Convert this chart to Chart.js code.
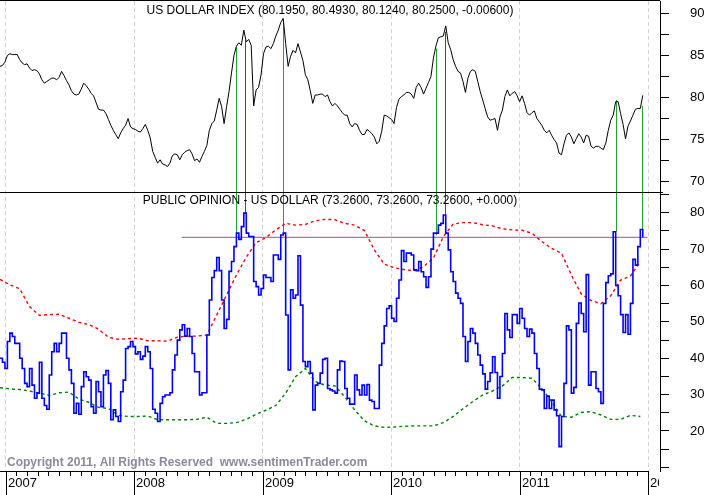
<!DOCTYPE html>
<html>
<head>
<meta charset="utf-8">
<script src="https://cdn.jsdelivr.net/npm/chart.js@4.4.1/dist/chart.umd.min.js"></script>
<style>
  html, body { margin: 0; padding: 0; background: #fff; }
  #wrap { position: relative; width: 708px; height: 495px; }
</style>
</head>
<body>
<div id="wrap"><canvas id="myChart"></canvas></div>
<script>
// weekly series, first week at startYear
const startYear = 2006.956;
const weeksPerYear = 52.18;

const dollarIndex = [
  83.7, 83.8, 84.2, 85.0, 85.2, 85.1, 85.1, 85.1, 84.5, 84.1,
  83.9, 84.0, 83.5, 83.2, 83.3, 83.2, 82.8, 82.1, 81.7, 81.9,
  82.1, 82.3, 82.3, 82.1, 82.4, 83.1, 82.6, 82.0, 81.5, 80.8,
  80.4, 80.3, 80.4, 81.0, 81.7, 81.4, 81.0, 80.5, 80.2, 79.4,
  78.6, 78.5, 78.5, 78.1, 77.4, 76.7, 76.1, 75.6, 75.1, 75.8,
  76.3, 76.7, 77.5, 76.5, 76.3, 76.2, 76.0, 75.9, 76.3, 76.8,
  76.1, 75.2, 73.6, 72.9, 72.2, 72.6, 72.1, 72.0, 71.8, 72.2,
  73.1, 73.3, 73.2, 72.6, 73.2, 73.5, 73.7, 73.8, 73.3, 72.5,
  72.7, 72.3, 73.0, 73.6, 74.3, 76.1, 76.9, 77.2, 78.5, 79.9,
  78.9, 76.9, 78.9, 80.7, 82.9, 85.0, 86.1, 86.5, 86.2, 88.0,
  86.6, 86.9, 86.2, 79.0, 80.9, 81.2, 82.7, 85.2, 86.0, 86.1,
  85.8, 86.4, 87.3, 88.0, 88.9, 89.4, 86.4, 83.7, 84.9, 85.6,
  85.3, 86.4, 85.4, 84.4, 82.7, 82.1, 80.8, 79.3, 80.3, 80.3,
  80.4, 80.4, 80.1, 80.3, 79.5, 79.0, 79.3, 79.0, 78.6, 78.2,
  77.9, 77.9, 76.9, 76.5, 76.9, 76.8, 76.1, 75.6, 75.6, 76.2,
  76.0, 75.7, 75.3, 74.5, 74.8, 76.0, 77.9, 77.8, 77.6, 77.4,
  76.9, 78.8, 79.8, 80.1, 80.3, 80.6, 80.6, 80.4, 79.9, 81.2,
  81.7, 81.2, 80.4, 81.1, 81.8, 82.5, 84.7, 86.1, 87.1, 87.2,
  87.3, 88.5, 86.5, 85.7, 84.5, 83.7, 83.1, 82.9, 81.9, 80.6,
  82.3, 83.1, 83.3, 83.1, 81.9, 80.7, 79.7, 78.7, 77.7, 77.3,
  77.4, 77.5, 76.1, 77.7, 78.5, 80.1, 80.9, 80.2, 80.5, 80.7,
  80.2, 79.5, 80.2, 79.3, 78.2, 77.9, 78.2, 78.4, 77.5, 77.1,
  76.7, 76.1, 75.8, 76.1, 75.5, 75.0, 74.6, 73.4, 73.2, 74.5,
  75.5, 75.8, 75.3, 74.5, 75.1, 75.7, 75.3, 74.6, 75.5, 75.4,
  74.2, 74.0, 74.2, 74.2, 74.0, 73.8, 74.6, 76.1, 77.3, 77.9,
  79.5, 79.5, 78.1, 76.8, 75.1, 76.6, 77.2, 77.9, 78.6, 78.7,
  78.7, 80.25
];

const publicOpinion = [
  40.0, 38.9, 37.2, 44.6, 46.9, 46.0, 44.1, 44.1, 40.0, 37.2,
  33.1, 32.2, 37.2, 32.6, 29.0, 30.4, 38.9, 29.0, 27.0, 26.0,
  35.4, 41.8, 44.1, 41.8, 44.1, 46.9, 46.9, 40.0, 36.8, 33.1,
  24.9, 27.6, 24.6, 32.2, 36.3, 34.9, 34.0, 26.7, 24.9, 33.6,
  30.8, 26.7, 35.4, 36.6, 33.1, 23.1, 25.8, 24.0, 22.6, 30.8,
  34.0, 42.7, 43.2, 44.6, 43.2, 41.2, 41.8, 39.7, 40.6, 43.2,
  41.8, 37.2, 26.0, 24.9, 22.6, 27.6, 29.4, 29.9, 29.9, 30.5,
  36.8, 40.9, 45.0, 47.8, 49.2, 46.1, 48.2, 46.0, 41.3, 36.3,
  36.3, 29.9, 30.5, 30.5, 46.4, 56.0, 62.2, 64.1, 67.7, 64.1,
  56.0, 48.2, 50.7, 63.9, 66.6, 70.7, 74.4, 72.7, 76.2, 79.9,
  74.4, 73.5, 73.5, 61.1, 59.7, 57.4, 59.2, 62.9, 62.2, 62.2,
  61.1, 68.4, 68.4, 67.2, 73.9, 74.4, 51.9, 36.8, 58.8, 56.5,
  57.4, 68.2, 54.6, 39.1, 37.7, 39.1, 35.9, 25.8, 32.6, 33.1,
  35.9, 39.7, 40.0, 31.7, 31.3, 31.0, 30.4, 36.8, 39.2, 39.1,
  31.7, 29.0, 27.4, 27.4, 35.4, 31.3, 29.9, 32.6, 29.9, 32.8,
  28.5, 28.1, 26.2, 26.2, 38.1, 44.1, 48.9, 53.7, 54.4, 51.0,
  50.1, 56.5, 61.5, 69.6, 66.6, 68.9, 68.9, 68.4, 64.3, 64.1,
  66.6, 63.8, 62.4, 59.5, 62.4, 70.0, 74.4, 74.4, 76.6, 77.1,
  79.4, 74.4, 69.8, 63.8, 61.1, 57.9, 56.5, 55.1, 46.0, 39.1,
  44.6, 48.2, 46.9, 44.1, 40.9, 38.1, 35.7, 31.5, 33.6, 36.0,
  40.4, 36.1, 29.0, 35.0, 41.3, 52.3, 47.8, 45.7, 52.0, 52.0,
  49.6, 53.7, 51.0, 48.2, 46.0, 48.0, 46.9, 41.3, 37.2, 31.5,
  31.3, 26.2, 29.6, 26.2, 28.5, 25.8, 24.2, 15.7, 24.0, 33.1,
  48.9, 47.8, 30.4, 32.0, 49.6, 55.2, 52.3, 47.3, 63.0, 32.6,
  36.3, 36.3, 31.7, 30.8, 27.6, 55.1, 60.8, 62.7, 63.2, 74.8,
  60.0, 57.2, 52.0, 47.1, 52.0, 46.6, 55.1, 67.2, 65.6, 70.7,
  75.4, 73.26
];

// bands, one value every 4 weeks
const bandStep = 4;
const upperBand = [
  61.7, 60.2, 59.1, 54.2, 51.8, 52.0, 52.1, 51.0, 49.9, 49.3,
  48.0, 45.8, 45.2, 45.4, 45.5, 44.8, 44.8, 44.7, 45.8, 46.1,
  46.1, 46.4, 51.9, 57.4, 62.9, 67.8, 71.8, 73.2, 75.3, 77.1,
  76.6, 76.8, 77.8, 78.2, 78.1, 77.1, 76.6, 75.1, 69.8, 65.9,
  64.9, 64.4, 64.1, 65.2, 67.5, 73.4, 76.9, 77.3, 77.3, 76.7,
  76.4, 75.6, 75.3, 75.2, 74.4, 72.1, 70.2, 68.9, 62.9, 57.7,
  55.9, 55.0, 57.2, 61.5, 62.6, 66.6
];
const lowerBand = [
  31.9, 31.6, 31.4, 31.0, 30.4, 29.8, 30.5, 30.7, 28.8, 27.9,
  26.5, 26.2, 24.3, 24.0, 24.0, 24.1, 23.1, 23.1, 23.1, 23.1,
  23.2, 23.8, 22.1, 22.1, 22.3, 23.2, 24.6, 25.7, 27.0, 30.4,
  34.9, 37.2, 33.6, 32.6, 32.4, 29.4, 25.8, 22.8, 21.4, 21.0,
  21.1, 21.3, 21.4, 21.4, 21.4, 22.3, 24.0, 26.1, 28.1, 29.9,
  31.0, 32.4, 34.7, 34.7, 34.5, 31.7, 28.1, 24.0, 23.8, 25.1,
  25.3, 24.4, 23.2, 23.2, 24.3, 24.0
];

// signal lines joining the two panels
const signalDates = [2008.790, 2008.862, 2009.160, 2010.351, 2010.416, 2011.747, 2011.954];
const signalDollar = [86.0, 86.8, 88.9, 85.8, 87.8, 79.7, 79.0];
const signalOpinion = [74.4, 79.9, 74.4, 73.8, 79.4, 74.8, 75.4];
const signalKinds = ['buy', 'sell', 'buy', 'buy', 'sell', 'buy', 'buy'];

const threshold = 73.26;
const thresholdFrom = 2008.370;
const thresholdTo = 2011.994;

const yearTicks = [2007, 2008, 2009, 2010, 2011, 2012];

const topTitle = 'US DOLLAR INDEX (80.1950, 80.4930, 80.1240, 80.2500, -0.00600)';
const bottomTitle = 'PUBLIC OPINION - US DOLLAR (73.2600, 73.2600, 73.2600, +0.000)';
const copyright = 'Copyright 2011, All Rights Reserved  www.sentimenTrader.com';

const FONT = '"Liberation Sans", Arial, sans-serif';
const weekX = i => startYear + i / weeksPerYear;

const decor = {
  id: 'decor',
  beforeDatasetsDraw(chart) {
    const {ctx, scales: {x, yTop, yBottom}} = chart;
    ctx.save();
    ctx.lineWidth = 1;
    signalDates.forEach((d, i) => {
      const px = Math.round(x.getPixelForValue(d)) + 0.5;
      ctx.strokeStyle = signalKinds[i] === 'sell' ? '#ff0000' : '#1fa52f';
      ctx.beginPath();
      ctx.moveTo(px, yTop.getPixelForValue(signalDollar[i]));
      ctx.lineTo(px, yBottom.getPixelForValue(signalOpinion[i]));
      ctx.stroke();
    });
    ctx.restore();
  },
  afterDraw(chart) {
    const {ctx, chartArea, scales: {x, yTop, yBottom}} = chart;
    const h = chart.height;
    ctx.save();
    ctx.strokeStyle = '#000';
    ctx.lineWidth = 1;
    // frame lines
    ctx.beginPath();
    ctx.moveTo(chartArea.left, chartArea.top - 0.5);
    ctx.lineTo(chartArea.right, chartArea.top - 0.5);
    const sep = Math.round(yTop.bottom) + 0.5;
    ctx.moveTo(chartArea.left, sep);
    ctx.lineTo(chartArea.right + 3, sep);
    const axisY = chartArea.bottom + 0.5;
    ctx.moveTo(chartArea.left, axisY);
    ctx.lineTo(Math.round(x.getPixelForValue(2012)) + 0.5, axisY);
    ctx.stroke();

    // month and year ticks
    ctx.beginPath();
    for (let yr = 2006; yr <= 2011; yr++) {
      for (let m = 1; m < 12; m++) {
        const v = yr + m / 12;
        if (v < x.min || v > 2012) continue;
        const px = Math.round(x.getPixelForValue(v)) + 0.5;
        ctx.moveTo(px, chartArea.bottom);
        ctx.lineTo(px, chartArea.bottom + 5);
      }
    }
    yearTicks.forEach(yr => {
      const px = Math.round(x.getPixelForValue(yr)) + 0.5;
      ctx.moveTo(px, chartArea.bottom);
      ctx.lineTo(px, h);
    });
    ctx.stroke();

    // year labels, cut at the right axis
    ctx.save();
    ctx.beginPath();
    ctx.rect(0, chartArea.bottom, chartArea.right - 1, h - chartArea.bottom);
    ctx.clip();
    ctx.fillStyle = '#000';
    ctx.font = '13px ' + FONT;
    ctx.textAlign = 'left';
    ctx.textBaseline = 'middle';
    yearTicks.forEach(yr => {
      ctx.fillText(String(yr), Math.round(x.getPixelForValue(yr)) + 2, chartArea.bottom + 12);
    });
    ctx.restore();

    // panel titles
    const cx = (chartArea.left + chartArea.right) / 2;
    ctx.fillStyle = '#000';
    ctx.font = '12px ' + FONT;
    ctx.textAlign = 'center';
    ctx.textBaseline = 'middle';
    ctx.fillText(topTitle, cx, yTop.top + 10);
    ctx.fillText(bottomTitle, cx, yBottom.top + 9);

    ctx.fillStyle = '#8a8a9c';
    ctx.font = 'bold 12px ' + FONT;
    ctx.textAlign = 'left';
    ctx.fillText(copyright, chartArea.left + 7, chartArea.bottom - 8);
    ctx.restore();
  }
};

// no extra room for half labels: the panels fill the canvas
const noPadding = s => {
  s.paddingTop = 0;
  s.paddingBottom = 0;
  s.paddingLeft = 0;
  s.paddingRight = 0;
};

const yAxisCommon = {
  type: 'linear',
  position: 'right',
  stack: 'panels',
  grid: { drawOnChartArea: false, tickLength: 9, color: '#000' },
  border: { display: true, color: '#000' },
  afterFit: s => { s.width = 48; noPadding(s); }
};

new Chart(document.getElementById('myChart'), {
  type: 'line',
  data: {
    datasets: [
      {
        label: 'Public Opinion',
        data: publicOpinion.map((v, i) => ({ x: weekX(i), y: v })),
        yAxisID: 'yBottom',
        borderColor: '#0000ff',
        borderWidth: 1.6,
        stepped: true,
        pointRadius: 0
      },
      {
        label: 'Threshold',
        data: [{ x: thresholdFrom, y: threshold }, { x: thresholdTo, y: threshold }],
        yAxisID: 'yBottom',
        borderColor: '#9450b4',
        borderWidth: 1,
        pointRadius: 0
      },
      {
        label: 'Upper band',
        data: upperBand.map((v, i) => ({ x: weekX(i * bandStep), y: v })),
        yAxisID: 'yBottom',
        borderColor: '#ff0000',
        borderWidth: 1.4,
        borderDash: [3, 3],
        pointRadius: 0
      },
      {
        label: 'Lower band',
        data: lowerBand.map((v, i) => ({ x: weekX(i * bandStep), y: v })),
        yAxisID: 'yBottom',
        borderColor: '#008000',
        borderWidth: 1.4,
        borderDash: [3, 3],
        pointRadius: 0
      },
      {
        label: 'US Dollar Index',
        data: dollarIndex.map((v, i) => ({ x: weekX(i), y: v })),
        yAxisID: 'yTop',
        borderColor: '#000000',
        borderWidth: 1,
        pointRadius: 0
      }
    ]
  },
  options: {
    responsive: true,
    maintainAspectRatio: false,
    animation: false,
    events: [],
    layout: { padding: { top: 1, left: 0, right: 0, bottom: 0 } },
    plugins: { legend: { display: false }, tooltip: { enabled: false } },
    scales: {
      x: {
        type: 'linear',
        min: 2006.956,
        max: 2012.092,
        afterBuildTicks: s => { s.ticks = yearTicks.map(v => ({ value: v })); },
        ticks: { display: false },
        grid: { color: '#d4d4d4', drawTicks: false },
        border: { display: false, dash: [4, 3] },
        afterFit: s => { s.height = 24; noPadding(s); }
      },
      yTop: Object.assign({}, yAxisCommon, {
        stackWeight: 190.7,
        min: 68.81,
        max: 91.46,
        ticks: {
          stepSize: 2.5,
          includeBounds: false,
          autoSkip: false,
          padding: 21,
          color: '#000',
          font: { family: FONT, size: 13 },
          callback: v => Math.abs(v % 5) < 1e-6 ? String(v) : ''
        }
      }),
      yBottom: Object.assign({}, yAxisCommon, {
        stackWeight: 279.3,
        min: 9.0,
        max: 85.8,
        ticks: {
          stepSize: 5,
          includeBounds: false,
          autoSkip: false,
          padding: 21,
          color: '#000',
          font: { family: FONT, size: 13 },
          callback: v => (v >= 20 && Math.abs(v % 10) < 1e-6) ? String(v) : ''
        }
      })
    }
  },
  plugins: [decor]
});
</script>
</body>
</html>
